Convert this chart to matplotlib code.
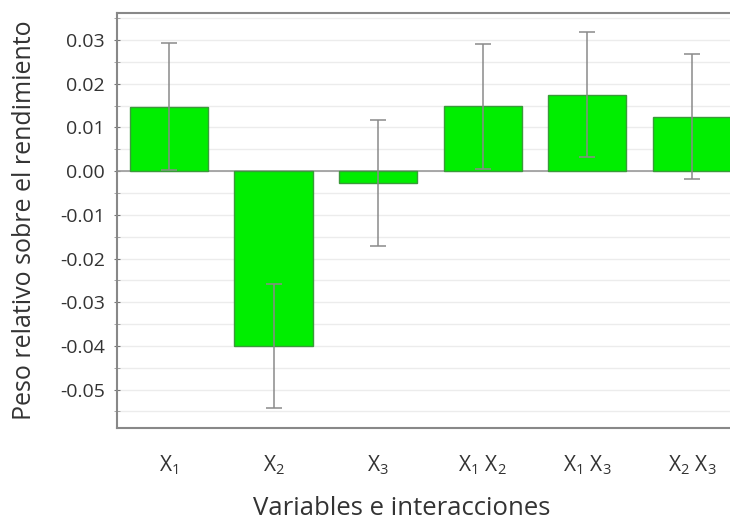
import matplotlib
matplotlib.use('Agg')
import matplotlib.pyplot as plt
import numpy as np

plt.rcParams['font.family'] = ['Open Sans', 'DejaVu Sans']
plt.rcParams['mathtext.fontset'] = 'custom'
plt.rcParams['mathtext.rm'] = 'Open Sans'

labels = [r'$\mathregular{X_1}$', r'$\mathregular{X_2}$', r'$\mathregular{X_3}$',
          r'$\mathregular{X_1\;X_2}$', r'$\mathregular{X_1\;X_3}$', r'$\mathregular{X_2\;X_3}$']
values = [0.0148, -0.0400, -0.0027, 0.0149, 0.0175, 0.0125]
errors = [0.0145, 0.0142, 0.0145, 0.0143, 0.0143, 0.0143]
yticks = [0.03, 0.02, 0.01, 0.00, -0.01, -0.02, -0.03, -0.04, -0.05]

fig = plt.figure(figsize=(7.3, 5.21), dpi=100)
ax = fig.add_axes([0.160, 0.1785, 0.845, 0.7965])

x = np.arange(len(values))
ax.bar(x, values, width=0.75, color='#00ee00', edgecolor='#3a9a3a', linewidth=1.0, zorder=3)
ax.errorbar(x, values, yerr=errors, fmt='none', ecolor='#8a8a8a', elinewidth=1.1,
            capsize=6, capthick=1.1, zorder=4)
ax.axhline(0, color='#9a9a9a', linewidth=1.2, zorder=2)

ax.set_xlim(-0.5, 5.40)
ax.set_ylim(-0.0588, 0.0362)
ax.set_yticks(yticks)
ax.set_yticklabels([f'{v:.2f}' for v in yticks])
ax.set_yticks(np.arange(-0.055, 0.036, 0.01), minor=True)
ax.grid(axis='y', which='both', color='#ececec', linewidth=1.0, zorder=0)

ax.set_xticks(x)
ax.set_xticklabels(labels)
ax.tick_params(axis='x', length=0, pad=18, labelsize=15, labelcolor='#333333')
ax.tick_params(axis='y', which='major', direction='inout', length=5, color='#777777',
               labelsize=14, labelcolor='#333333', pad=6)
ax.tick_params(axis='y', which='minor', direction='inout', length=4, color='#999999')

for s in ['top', 'left', 'bottom']:
    ax.spines[s].set_color('#888888')
    ax.spines[s].set_linewidth(1.5)
ax.spines['right'].set_visible(False)

ax.set_ylabel('Peso relativo sobre el rendimiento', fontsize=18, color='#333333', va='center')
ax.yaxis.set_label_coords(-0.149, 0.5)
ax.set_xlabel('Variables e interacciones', fontsize=18.5, color='#333333', va='center')
ax.xaxis.set_label_coords(0.462, -0.193)

fig.savefig('out.png', dpi=100)
